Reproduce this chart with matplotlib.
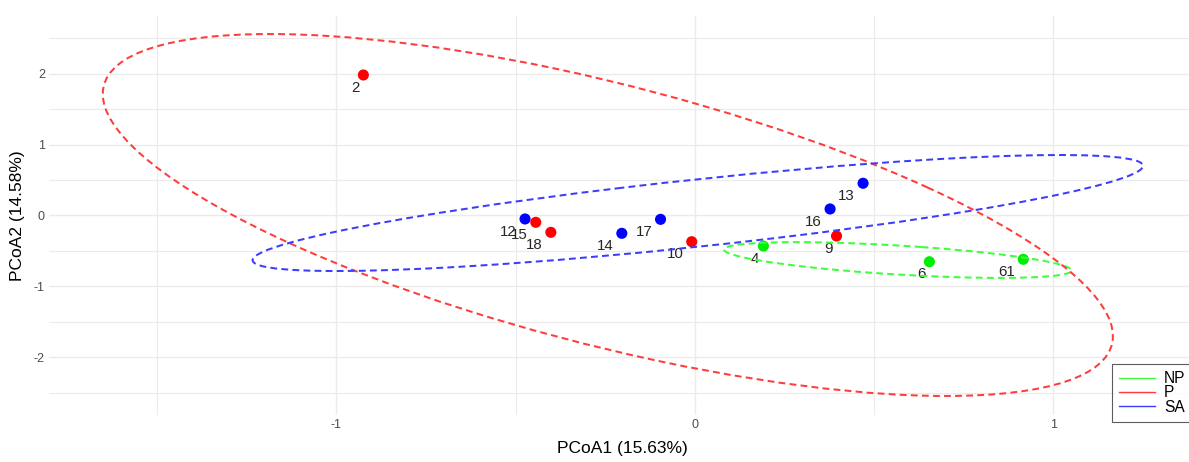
import numpy as np
import matplotlib
matplotlib.use("Agg")
import matplotlib.pyplot as plt
from matplotlib.patches import Ellipse
from matplotlib.lines import Line2D

plt.rcParams["font.family"] = ["Liberation Sans", "DejaVu Sans"]
plt.rcParams["axes.unicode_minus"] = False

# ---- data ----
sample_ids = ["2", "12", "15", "18", "14", "17", "10", "4", "9", "16", "13", "6", "61"]
groups     = ["P", "SA", "P", "P", "SA", "SA", "P", "NP", "P", "SA", "SA", "NP", "NP"]
pcoa1 = [-0.925, -0.474, -0.444, -0.402, -0.204, -0.096, -0.009, 0.191, 0.395, 0.377, 0.469, 0.654, 0.916]
pcoa2 = [1.979, -0.049, -0.096, -0.237, -0.251, -0.054, -0.369, -0.430, -0.289, 0.092, 0.454, -0.651, -0.617]

group_names = ["NP", "P", "SA"]
# 95% ellipses: centre, half extent along x / y, and x-y correlation
ell_cx = [0.566, -0.243, 0.008]
ell_cy = [-0.627, 0.007, 0.035]
ell_wx = [0.485, 1.409, 1.242]
ell_hy = [0.252, 2.549, 0.817]
ell_r  = [-0.584, -0.669, 0.813]

pt_colors  = {"NP": "#00EE00", "P": "#FF0000", "SA": "#0000FF"}
ell_colors = {"NP": "#3CFF3C", "P": "#FF3C3C", "SA": "#3C3CFF"}

fig = plt.figure(figsize=(11.89, 4.62), dpi=100)
ax = fig.add_axes([49 / 1189, 1 - 415 / 462, (1195 - 49) / 1189, (415 - 16) / 462])
ax.set_xlim(-1.802, 1.395)
ax.set_ylim(-2.81, 2.81)

# grid like theme_minimal
ax.set_xticks([-1, 0, 1])
ax.set_xticks([-1.5, -0.5, 0.5], minor=True)
ax.set_yticks([-2, -1, 0, 1, 2])
ax.set_yticks([-2.5, -1.5, -0.5, 0.5, 1.5, 2.5], minor=True)
ax.grid(which="major", color="#EBEBEB", linewidth=1.0)
ax.grid(which="minor", color="#EBEBEB", linewidth=0.8)
ax.set_axisbelow(True)
for s in ax.spines.values():
    s.set_visible(False)
ax.tick_params(which="both", length=0, labelsize=9, labelcolor="#4D4D4D", pad=3)

# points
for x, y, g in zip(pcoa1, pcoa2, groups):
    ax.scatter(x, y, s=64, color=pt_colors[g], edgecolors="none", zorder=3)

# labels (placed left-below like hjust/vjust in ggplot)
fs_lab = 10.8
for x, y, lab in zip(pcoa1, pcoa2, sample_ids):
    dx = -len(lab) * 0.556 * fs_lab
    ax.annotate(lab, (x, y), xytext=(dx, -9.2), textcoords="offset points",
                ha="center", va="center", fontsize=fs_lab, color="#262626", zorder=4)

# ellipses
for g, cx, cy, wx, hy, r in zip(group_names, ell_cx, ell_cy, ell_wx, ell_hy, ell_r):
    S = np.array([[wx ** 2, r * wx * hy], [r * wx * hy, hy ** 2]])
    vals, vecs = np.linalg.eigh(S)
    ang = np.degrees(np.arctan2(vecs[1, 1], vecs[0, 1]))
    e = Ellipse((cx, cy), 2 * np.sqrt(vals[1]), 2 * np.sqrt(vals[0]), angle=ang,
                fill=False, edgecolor=ell_colors[g], linewidth=1.45,
                linestyle=(0, (3.4, 2.1)), zorder=5)
    ax.add_patch(e)

ax.set_xlabel("PCoA1 (15.63%)", fontsize=12.5, color="black")
ax.xaxis.set_label_coords(0.5, (415 - 449) / 399)
ax.xaxis.label.set_va("center")
ax.set_ylabel("PCoA2 (14.58%)", fontsize=12.5, color="black")
ax.yaxis.set_label_coords((18 - 49) / 1146, 0.5)
ax.yaxis.label.set_va("center")
ax.yaxis.label.set_ha("center")

handles = [Line2D([], [], color=ell_colors[g], linewidth=1.0) for g in group_names]
leg = fig.legend(handles, group_names, loc="upper left",
                 bbox_to_anchor=(1112 / 1189, 1 - 364 / 462), bbox_transform=fig.transFigure,
                 fontsize=11.2, frameon=True, fancybox=False, borderaxespad=0,
                 borderpad=0.45, handlelength=2.3, handletextpad=0.6, labelspacing=-0.04)
leg.get_frame().set_edgecolor("#333333")
leg.get_frame().set_linewidth(0.8)

fig.savefig("out.png", dpi=100)
